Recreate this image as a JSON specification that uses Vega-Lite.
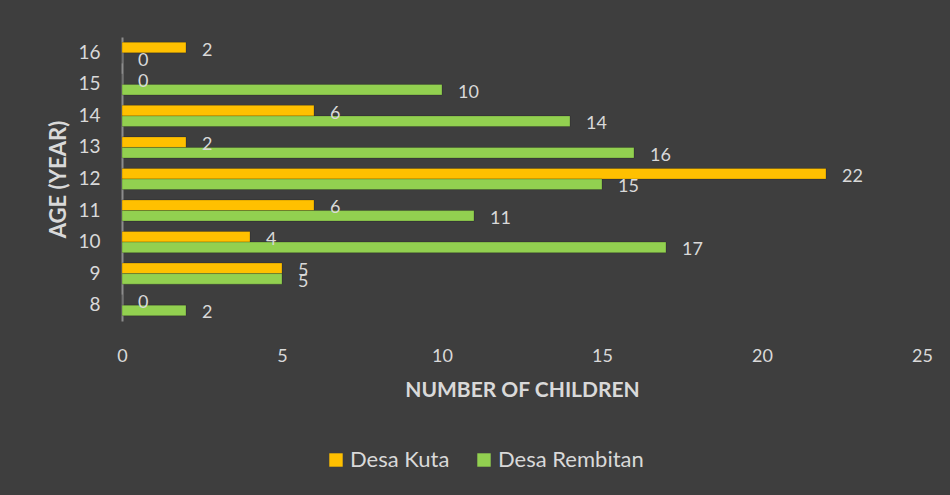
{
  "$schema": "https://vega.github.io/schema/vega-lite/v6.json",
  "autosize": {"type": "none"},
  "width": 800,
  "height": 284,
  "padding": {"left": 122, "top": 37, "right": 28, "bottom": 174},
  "background": "#3e3e3e",
  "config": {
    "view": {"stroke": null},
    "font": "Lato",
    "axis": {"labelColor": "#d9d9d9", "titleColor": "#d9d9d9", "labelFont": "Lato", "titleFont": "Lato"},
    "legend": {"labelColor": "#d9d9d9", "labelFont": "Lato"}
  },
  "data": {
    "values": [
      {"age": 16, "village": "Desa Kuta", "count": 2},
      {"age": 16, "village": "Desa Rembitan", "count": 0},
      {"age": 15, "village": "Desa Kuta", "count": 0},
      {"age": 15, "village": "Desa Rembitan", "count": 10},
      {"age": 14, "village": "Desa Kuta", "count": 6},
      {"age": 14, "village": "Desa Rembitan", "count": 14},
      {"age": 13, "village": "Desa Kuta", "count": 2},
      {"age": 13, "village": "Desa Rembitan", "count": 16},
      {"age": 12, "village": "Desa Kuta", "count": 22},
      {"age": 12, "village": "Desa Rembitan", "count": 15},
      {"age": 11, "village": "Desa Kuta", "count": 6},
      {"age": 11, "village": "Desa Rembitan", "count": 11},
      {"age": 10, "village": "Desa Kuta", "count": 4},
      {"age": 10, "village": "Desa Rembitan", "count": 17},
      {"age": 9, "village": "Desa Kuta", "count": 5},
      {"age": 9, "village": "Desa Rembitan", "count": 5},
      {"age": 8, "village": "Desa Kuta", "count": 0},
      {"age": 8, "village": "Desa Rembitan", "count": 2}
    ]
  },
  "encoding": {
    "y": {
      "field": "age",
      "type": "ordinal",
      "sort": "descending",
      "scale": {"paddingInner": 0.33, "paddingOuter": 0.167},
      "axis": {
        "title": "AGE (YEAR)",
        "titleFontSize": 22,
        "titleFontWeight": "bold",
        "titlePadding": 7,
        "labelFontSize": 19,
        "labelPadding": 22,
        "labelAngle": 0,
        "ticks": false,
        "domainColor": "#8c8c8c",
        "domainWidth": 2
      }
    },
    "yOffset": {"field": "village", "type": "nominal", "sort": ["Desa Kuta", "Desa Rembitan"]},
    "x": {
      "field": "count",
      "type": "quantitative",
      "scale": {"domain": [0, 25], "nice": false, "zero": true},
      "axis": {
        "title": "NUMBER OF CHILDREN",
        "titleFontSize": 21,
        "titleFontWeight": "bold",
        "titlePadding": 14,
        "values": [0, 5, 10, 15, 20, 25],
        "labelFontSize": 18,
        "labelPadding": 26,
        "labelFlush": false,
        "labelBound": false,
        "ticks": false,
        "domain": false,
        "grid": false
      }
    }
  },
  "layer": [
    {
      "mark": {"type": "bar", "stroke": "#00000055", "strokeWidth": 0.6},
      "encoding": {
        "color": {
          "field": "village",
          "type": "nominal",
          "scale": {"domain": ["Desa Kuta", "Desa Rembitan"], "range": ["#FFC000", "#92D050"]},
          "legend": {
            "title": null,
            "orient": "none",
            "legendX": 203,
            "legendY": 412,
            "direction": "horizontal",
            "symbolType": "square",
            "symbolSize": 180,
            "symbolStrokeWidth": 0,
            "labelFontSize": 22,
            "labelOffset": 3,
            "columnPadding": 23
          }
        }
      }
    },
    {
      "mark": {"type": "text", "align": "left", "baseline": "middle", "dx": 16, "dy": 3, "fontSize": 18, "color": "#d9d9d9"},
      "encoding": {
        "text": {"field": "count", "type": "quantitative"}
      }
    }
  ]
}
